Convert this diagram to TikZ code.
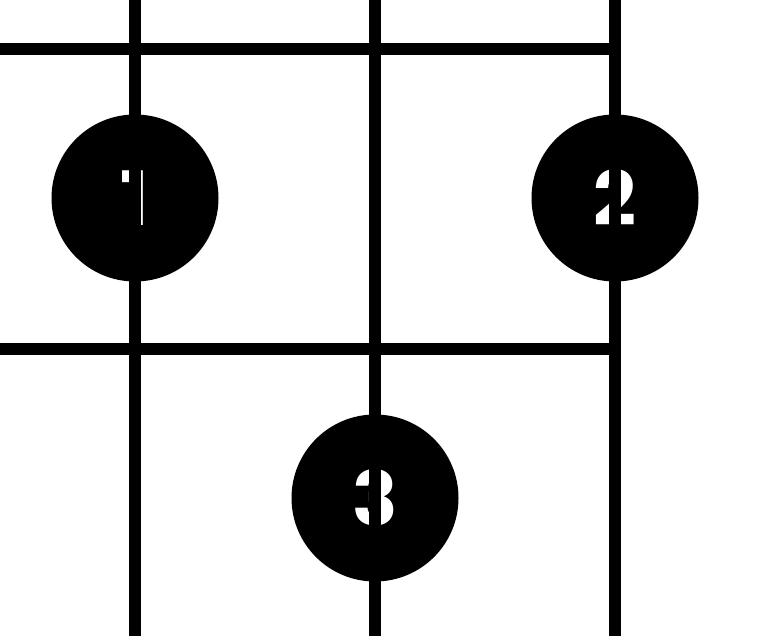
\documentclass[tikz,border=0pt]{standalone}
\usepackage{fontspec}
\setmainfont{Poppins}
\begin{document}
\begin{tikzpicture}[x=1pt,y=1pt,
  gridline/.style={line width=11.7pt, black},
  dot/.style={circle, fill=black, draw=none, minimum size=167pt, inner sep=0pt,
    text=white, font=\fontsize{75}{75}\selectfont\bfseries}]
\useasboundingbox (0,0) rectangle (770,636);
% grid coordinates
\coordinate (v1t) at (135,636); \coordinate (v1b) at (135,0);
\coordinate (v2t) at (375,636); \coordinate (v2b) at (375,0);
\coordinate (v3t) at (615,636); \coordinate (v3b) at (615,0);
\coordinate (h1l) at (0,587.3); \coordinate (h1r) at (615,587.3);
\coordinate (h2l) at (0,287.3); \coordinate (h2r) at (615,287.3);
% horizontal lines
\draw[gridline] (h1l) -- (h1r);
\draw[gridline] (h2l) -- (h2r);
% circles
\node[dot] (n1) at (135,438) {1};
\node[dot] (n2) at (615,438) {2};
\node[dot] (n3) at (375,138) {3};
% vertical lines on top
\draw[gridline] (v1t) -- (v1b);
\draw[gridline] (v2t) -- (v2b);
\draw[gridline] (v3t) -- (v3b);
\end{tikzpicture}
\end{document}
